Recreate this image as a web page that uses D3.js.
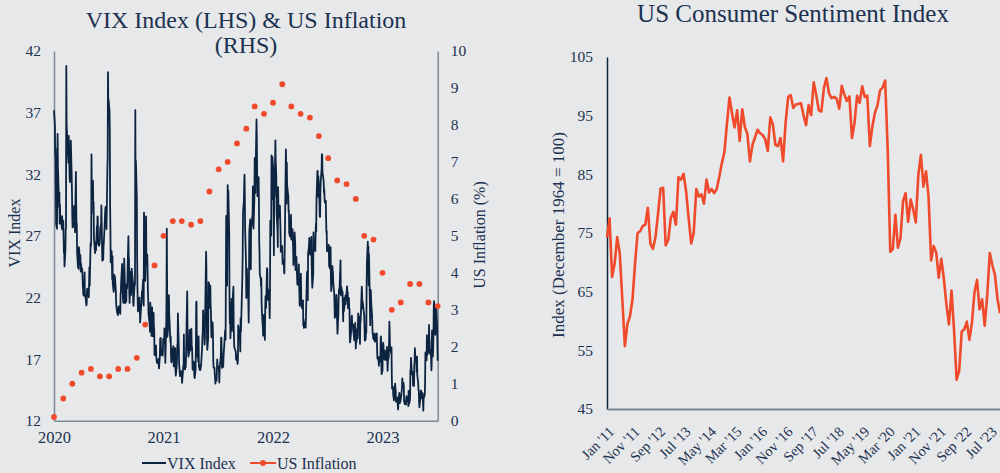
<!DOCTYPE html>
<html>
<head>
<meta charset="utf-8">
<script src="https://cdn.jsdelivr.net/npm/d3@7"></script>
<style>
  body { margin: 0; background: #e7e8ea; }
  svg { display: block; font-family: "Liberation Serif", "Times New Roman", serif; }
  .axis text { fill: #1b3150; font-size: 15.5px; font-family: "Liberation Serif", serif; }
</style>
</head>
<body>
<svg id="chart" width="1000" height="473"></svg>
<script>
// VIX daily closes, one array per calendar year (2020 starts 1 May, 2023 ends 1 Nov)
var vix2020 = [
  37.19,35.97,33.61,34.12,31.44,27.98,27.57,33.04,35.28,32.61,31.89,29.30,30.53,27.99,29.53,28.16,28.01,27.62,28.59,27.51,
  28.23,26.84,25.66,25.81,24.52,25.81,27.57,27.57,40.79,36.09,34.40,33.67,33.47,32.94,35.12,31.77,31.37,33.84,32.22,34.73,31.78,30.43,
  28.62,27.68,27.94,29.43,28.08,29.26,27.29,32.19,29.52,27.76,28.00,25.68,24.46,24.84,24.32,26.08,25.84,24.74,25.44,24.10,24.76,24.46,
  24.28,23.76,22.99,22.65,22.21,22.13,24.03,22.28,22.13,22.05,21.35,21.51,22.54,22.72,22.54,22.37,22.03,23.27,24.47,22.96,26.41,
  26.12,26.57,33.60,30.75,31.46,28.81,29.71,26.87,25.85,25.59,26.04,26.46,25.83,27.78,26.86,28.58,28.51,26.38,26.19,26.27,26.37,
  26.70,27.63,27.96,29.48,28.06,26.36,25.00,25.07,26.07,26.40,26.97,27.41,29.18,29.35,28.65,28.11,27.55,32.46,33.35,40.28,37.59,38.02,
  37.13,35.55,29.57,27.58,24.86,25.75,24.80,23.45,25.35,23.10,22.45,22.71,23.84,23.11,23.70,22.66,21.64,21.25,20.84,20.57,
  20.77,21.17,21.28,20.79,21.30,20.68,22.27,22.52,23.31,24.72,22.89,22.50,21.93,21.57,25.16,24.23,23.31,21.53,21.70,23.08,22.77,22.75
];
var vix2021 = [
  26.97,25.34,25.07,22.37,21.56,24.08,23.33,22.21,23.25,24.34,23.24,21.58,21.32,21.91,23.19,23.02,37.21,30.21,33.09,
  30.24,25.56,22.91,21.77,20.87,21.24,21.63,21.99,21.25,19.97,21.46,21.50,22.49,22.05,23.45,23.11,21.34,28.89,27.95,
  23.35,24.10,26.67,28.57,24.66,25.47,24.03,22.56,21.91,20.69,20.03,19.79,19.23,21.58,20.95,18.88,20.30,21.20,19.81,18.86,20.74,19.61,19.40,
  17.33,17.91,18.12,17.16,16.95,16.69,16.91,16.65,16.99,16.57,16.25,17.29,18.68,17.50,18.71,17.33,17.64,17.56,17.28,17.61,18.61,
  18.31,19.48,19.15,18.39,16.69,19.66,21.84,27.59,23.13,18.81,19.72,21.34,22.18,20.67,20.15,18.40,18.84,17.36,16.74,16.76,
  17.90,17.48,18.04,16.42,16.42,17.07,17.89,16.10,15.65,16.39,17.02,18.15,17.75,20.70,17.89,16.66,16.32,15.97,15.62,15.76,16.02,15.83,
  15.48,15.07,16.44,16.20,19.00,16.18,16.17,17.12,16.33,17.01,18.45,22.50,19.73,17.91,17.69,17.20,17.58,19.36,18.31,17.70,18.24,
  19.46,18.04,17.97,17.28,16.15,16.72,16.79,16.06,15.59,15.45,16.12,17.91,21.57,21.67,18.56,17.15,17.22,16.79,18.84,16.39,16.11,16.48,
  16.11,16.41,16.41,18.06,18.91,19.22,20.95,19.37,19.46,18.18,18.69,20.81,25.71,24.36,20.87,18.63,17.75,18.76,23.25,22.56,23.14,
  21.15,22.96,21.30,21.00,19.54,18.77,20.00,19.85,18.64,16.86,16.30,16.30,15.70,15.49,15.01,15.43,15.24,16.08,16.98,16.53,16.26,
  16.41,16.03,15.10,16.03,16.48,17.22,18.73,18.73,17.66,16.29,16.49,16.37,17.11,17.59,17.91,19.17,19.38,18.58,28.62,22.96,27.19,
  31.12,27.95,30.67,27.18,21.89,19.90,21.58,18.69,20.31,21.89,19.29,20.57,21.57,22.87,19.70,18.63,17.96,17.68,17.54,16.95,17.33,17.22
];
var vix2022 = [
  16.60,16.91,19.73,19.61,18.76,19.40,18.41,17.62,20.31,19.19,22.79,23.85,25.59,28.85,29.90,31.16,31.96,30.49,27.66,24.83,
  21.96,22.09,24.35,23.22,22.86,21.44,19.96,23.91,27.36,28.33,25.70,24.29,28.11,27.75,28.81,31.02,30.32,27.59,30.15,
  33.32,31.30,30.48,31.98,36.45,35.13,32.45,30.23,30.75,31.77,29.83,26.67,25.67,23.87,23.53,22.94,23.57,21.67,20.81,19.63,18.90,19.33,20.56,
  19.63,18.57,21.03,22.10,21.55,21.16,24.37,24.26,21.82,22.70,22.17,21.37,20.32,22.68,28.21,27.02,33.52,31.60,29.99,33.40,
  32.34,29.25,25.42,31.20,30.19,34.75,32.99,32.56,31.77,28.87,27.47,26.10,30.96,29.35,29.43,28.48,29.45,28.37,27.50,25.72,26.19,
  25.69,24.72,24.79,25.07,24.02,23.96,26.09,27.75,34.02,32.69,29.62,32.95,31.13,30.19,28.95,29.05,27.23,26.95,28.36,28.16,28.71,
  26.70,27.54,26.73,26.08,24.64,26.17,27.29,26.82,26.40,24.23,25.30,24.50,23.88,23.11,23.03,23.36,24.69,23.24,22.33,21.33,
  22.84,23.93,21.95,21.44,21.15,21.29,21.77,19.74,20.20,19.53,19.95,19.69,19.90,19.56,20.60,23.80,24.11,22.82,21.78,25.56,26.21,26.83,25.87,
  25.56,25.47,26.91,24.64,23.61,22.79,23.87,27.27,26.16,26.27,26.30,25.76,27.16,27.99,27.35,29.92,32.26,32.27,30.18,31.84,31.62,
  29.59,28.55,28.55,30.52,31.36,32.45,33.63,33.57,31.94,32.02,31.37,30.50,30.76,29.98,29.69,29.85,28.46,27.28,27.39,25.75,25.88,
  25.81,25.86,26.27,24.55,24.35,25.54,26.09,23.53,22.52,23.73,24.54,24.11,23.93,23.12,22.36,21.47,20.35,20.50,22.21,21.89,20.58,
  19.84,19.06,20.75,22.15,22.68,22.29,22.83,25.00,22.55,22.17,22.83,22.62,22.42,20.87,20.07,21.97,20.87,21.65,22.14,21.44,21.67
];
var vix2023 = [
  22.90,22.01,22.46,21.13,21.97,21.09,21.09,18.83,18.35,19.36,20.34,20.52,19.85,19.81,19.20,19.08,18.73,18.51,19.94,19.40,
  17.87,18.73,18.33,19.43,18.66,19.63,20.71,20.53,20.34,18.91,18.23,20.17,20.02,22.87,22.29,21.14,21.67,20.95,20.70,
  20.58,19.59,18.49,18.60,19.59,19.11,22.61,24.80,26.52,23.73,26.14,22.99,25.51,21.38,19.75,22.26,22.61,21.74,20.60,19.97,19.12,19.02,18.70,
  18.55,18.58,19.08,18.40,18.97,18.53,19.09,17.80,17.07,16.95,16.83,16.46,17.17,16.77,16.89,18.76,18.84,16.75,15.78,
  16.08,17.78,18.34,18.20,17.19,16.98,17.71,16.94,16.93,17.03,17.12,17.99,16.87,16.05,16.81,17.21,18.53,20.03,19.14,17.95,17.46,17.94,
  15.65,14.60,14.73,13.96,13.94,13.65,13.83,15.01,14.61,14.50,13.54,13.54,13.88,13.20,12.91,13.44,14.25,13.74,13.43,13.54,13.59,
  14.18,14.69,15.44,14.83,15.07,14.84,13.54,13.61,13.34,13.48,13.30,13.76,13.99,13.60,13.91,13.86,13.19,14.41,13.33,13.63,
  13.93,16.09,15.92,17.10,15.77,15.99,15.96,15.85,14.84,14.82,16.46,16.78,17.89,17.30,17.13,16.97,15.98,17.20,15.68,15.08,14.45,14.45,13.57,
  13.09,14.02,14.45,14.40,13.84,13.80,14.23,13.48,12.82,13.79,14.00,14.11,15.14,17.54,17.20,16.90,18.94,18.22,17.34,17.52,
  17.61,19.78,18.58,18.49,17.45,17.70,17.03,16.09,16.69,19.32,17.21,17.88,19.22,21.40,21.71,20.37,18.97,20.19,20.68,21.27,19.75,18.14,
  16.87
];
var marketHolidays = [
  "2020-05-25","2020-07-03","2020-09-07","2020-11-26","2020-12-25",
  "2021-01-01","2021-01-18","2021-02-15","2021-04-02","2021-05-31","2021-07-05","2021-09-06","2021-11-25","2021-12-24",
  "2022-01-17","2022-02-21","2022-04-15","2022-05-30","2022-06-20","2022-07-04","2022-09-05","2022-11-24","2022-12-26",
  "2023-01-02","2023-01-16","2023-02-20","2023-04-07","2023-05-29","2023-06-19","2023-07-04","2023-09-04"
];
// US CPI inflation (%), monthly from May 2020
var inflation = [0.1,0.6,1.0,1.3,1.4,1.2,1.2,1.4,1.4,1.7,2.6,4.2,5.0,5.4,5.4,5.3,5.4,6.2,6.8,7.0,7.5,7.9,
  8.5,8.3,8.6,9.1,8.5,8.3,8.2,7.7,7.1,6.5,6.4,6.0,5.0,4.9,4.0,3.0,3.2,3.7,3.7,3.2,3.1];
var vixTickLabels = ["2020", "2021", "2022", "2023"];

// UMich consumer sentiment, monthly from Jan 2011
var sent2011 = [74.2,77.5,67.5,69.8,74.3,71.5,63.7,55.7,59.5,60.8,63.7,69.9];
var sent2012 = [75.0,75.3,76.2,76.4,79.3,73.2,72.3,74.3,78.3,82.6,82.7,72.9];
var sent2013 = [73.8,77.6,78.6,76.4,84.5,84.1,85.1,82.1,77.5,73.2,75.1,82.5];
var sent2014 = [81.2,81.6,80.0,84.1,81.9,82.5,81.8,82.5,84.6,86.9,88.8,93.6];
var sent2015 = [98.1,95.4,93.0,95.9,90.7,96.1,93.1,91.9,87.2,90.0,91.3,92.6];
var sent2016 = [92.0,91.7,91.0,89.0,94.7,93.5,90.0,89.8,91.2,87.2,93.8,98.2];
var sent2017 = [98.5,96.3,96.9,97.0,97.1,95.1,93.4,96.8,95.1,100.7,98.5,95.9];
var sent2018 = [95.7,99.7,101.4,98.8,98.0,98.2,97.9,96.2,100.1,98.6,97.5,98.3];
var sent2019 = [91.2,93.8,98.4,97.2,100.0,98.2,98.4,89.8,93.2,95.5,96.8,99.3];
var sent2020 = [99.8,101.0,89.1,71.8,72.3,78.1,72.5,74.1,80.4,81.8,76.9,80.7];
var sent2021 = [79.0,76.8,84.9,88.3,82.9,85.5,81.2,70.3,72.8,71.7,67.4,70.6];
var sent2022 = [67.2,62.8,59.4,65.2,58.4,50.0,51.5,58.2,58.6,59.9,56.8,59.7];
var sent2023 = [64.9,67.0,62.0,63.7,59.2,64.4,71.6,69.5,67.9,63.8,61.3];
var sentTickLabels = ["Jan '11","Nov '11","Sep '12","Jul '13","May '14","Mar '15","Jan '16","Nov '16",
  "Sep '17","Jul '18","May '19","Mar '20","Jan '21","Nov '21","Sep '22","Jul '23"];

var navy = "#0d2441", textCol = "#1b3150", orange = "#ef4a2b";
var svg = d3.select("#chart");

// ---------- left chart: VIX & inflation ----------
var fmtDay = d3.timeFormat("%Y-%m-%d");
var start = new Date(2020, 4, 1), end = new Date(2023, 10, 1);
var tradingDays = d3.timeDay.range(start, d3.timeDay.offset(end, 1))
  .filter(d => d.getDay() > 0 && d.getDay() < 6 && marketHolidays.indexOf(fmtDay(d)) < 0);
var vixValues = vix2020.concat(vix2021, vix2022, vix2023);
console.log(tradingDays.length, vixValues.length);
var vixData = vixValues.map((v, i) => ({ date: tradingDays[i], value: v })).filter(d => d.date);
var inflData = inflation.map((v, i) => ({ date: d3.timeMonth.offset(start, i), value: v }));

var x = d3.scaleTime().domain([start, end]).range([54, 437.7]);
var yL = d3.scaleLinear().domain([12, 42]).range([420.7, 51]);
var yR = d3.scaleLinear().domain([0, 10]).range([420.7, 51]);

var axisL = svg.append("g").attr("class", "axis").attr("transform", "translate(54,0)")
  .call(d3.axisLeft(yL).tickValues(d3.range(12, 43, 5)).tickSize(0).tickPadding(13));
var axisR = svg.append("g").attr("class", "axis").attr("transform", "translate(437.7,0)")
  .call(d3.axisRight(yR).ticks(10).tickSize(0).tickPadding(13));
var axisB = svg.append("g").attr("class", "axis").attr("transform", "translate(0,420.7)")
  .call(d3.axisBottom(x).tickValues(vixTickLabels.map((t, i) => d3.timeYear.offset(start, i)))
    .tickFormat((d, i) => vixTickLabels[i]).tickSize(0).tickPadding(11));
[axisL, axisR, axisB].forEach(a => a.select(".domain").attr("stroke", "#7e8995").attr("stroke-width", 1.5));
axisB.selectAll("text").style("font-size", "16.5px");

svg.append("path").datum(vixData)
  .attr("fill", "none").attr("stroke", navy).attr("stroke-width", 1.8).attr("stroke-linejoin", "round")
  .attr("d", d3.line().x(d => x(d.date)).y(d => yL(d.value)));

svg.selectAll(".infl").data(inflData).enter().append("circle")
  .attr("class", "infl")
  .attr("cx", d => x(d.date)).attr("cy", d => yR(d.value)).attr("r", 2.9)
  .attr("fill", orange);

svg.append("text").attr("x", 246).attr("y", 28).attr("text-anchor", "middle")
  .attr("fill", textCol).style("font-size", "24px").text("VIX Index (LHS) & US Inflation");
svg.append("text").attr("x", 246).attr("y", 53).attr("text-anchor", "middle")
  .attr("fill", textCol).style("font-size", "24px").text("(RHS)");

svg.append("text").attr("transform", "translate(14,233) rotate(-90)").attr("text-anchor", "middle")
  .attr("dy", "0.35em").attr("fill", textCol).style("font-size", "16px").text("VIX Index");
svg.append("text").attr("transform", "translate(479,235) rotate(-90)").attr("text-anchor", "middle")
  .attr("dy", "0.35em").attr("fill", textCol).style("font-size", "16px").text("US Inflation (%)");

// legend
var legend_y = 463;
svg.append("line").attr("x1", 142).attr("x2", 166).attr("y1", legend_y).attr("y2", legend_y)
  .attr("stroke", navy).attr("stroke-width", 2);
svg.append("text").attr("x", 167).attr("y", legend_y).attr("dy", "0.35em")
  .attr("fill", textCol).style("font-size", "16px").text("VIX Index");
svg.append("line").attr("x1", 250).attr("x2", 276).attr("y1", legend_y).attr("y2", legend_y)
  .attr("stroke", orange).attr("stroke-width", 2);
svg.append("circle").attr("cx", 263).attr("cy", legend_y).attr("r", 2.9).attr("fill", orange);
svg.append("text").attr("x", 277).attr("y", legend_y).attr("dy", "0.35em")
  .attr("fill", textCol).style("font-size", "16px").text("US Inflation");

// ---------- right chart: consumer sentiment ----------
var sentiment = sent2011.concat(sent2012, sent2013, sent2014, sent2015, sent2016, sent2017,
  sent2018, sent2019, sent2020, sent2021, sent2022, sent2023);
var xS = d3.scaleLinear().domain([0, sentiment.length - 1]).range([607, 1000]);
var yS = d3.scaleLinear().domain([45, 105]).range([409, 57]);

var axisSL = svg.append("g").attr("class", "axis").attr("transform", "translate(607,0)")
  .call(d3.axisLeft(yS).tickValues(d3.range(45, 106, 10)).tickSize(0).tickPadding(14));
axisSL.select(".domain").attr("stroke", navy).attr("stroke-width", 1.5);

var axisSB = svg.append("g").attr("class", "axis").attr("transform", "translate(0,409)")
  .call(d3.axisBottom(xS).tickValues(sentTickLabels.map((t, i) => i * 10))
    .tickFormat((d, i) => sentTickLabels[i]).tickSize(0));
axisSB.select(".domain").attr("stroke", "#7a8795").attr("stroke-width", 2.2);
axisSB.selectAll("text")
  .attr("y", 0).attr("dy", "0.35em")
  .attr("text-anchor", "end")
  .attr("transform", "translate(4,20) rotate(-45)")
  .style("font-size", "14.5px");

svg.append("path").datum(sentiment)
  .attr("fill", "none").attr("stroke", orange).attr("stroke-width", 2.6).attr("stroke-linejoin", "round")
  .attr("d", d3.line().x((d, i) => xS(i)).y(d => yS(d)));

svg.append("text").attr("x", 793).attr("y", 22).attr("text-anchor", "middle")
  .attr("fill", textCol).style("font-size", "25px").text("US Consumer Sentiment Index");
svg.append("text").attr("transform", "translate(558,235) rotate(-90)").attr("text-anchor", "middle")
  .attr("dy", "0.35em").attr("fill", textCol).style("font-size", "17px").text("Index (December 1964 = 100)");
</script>
</body>
</html>
